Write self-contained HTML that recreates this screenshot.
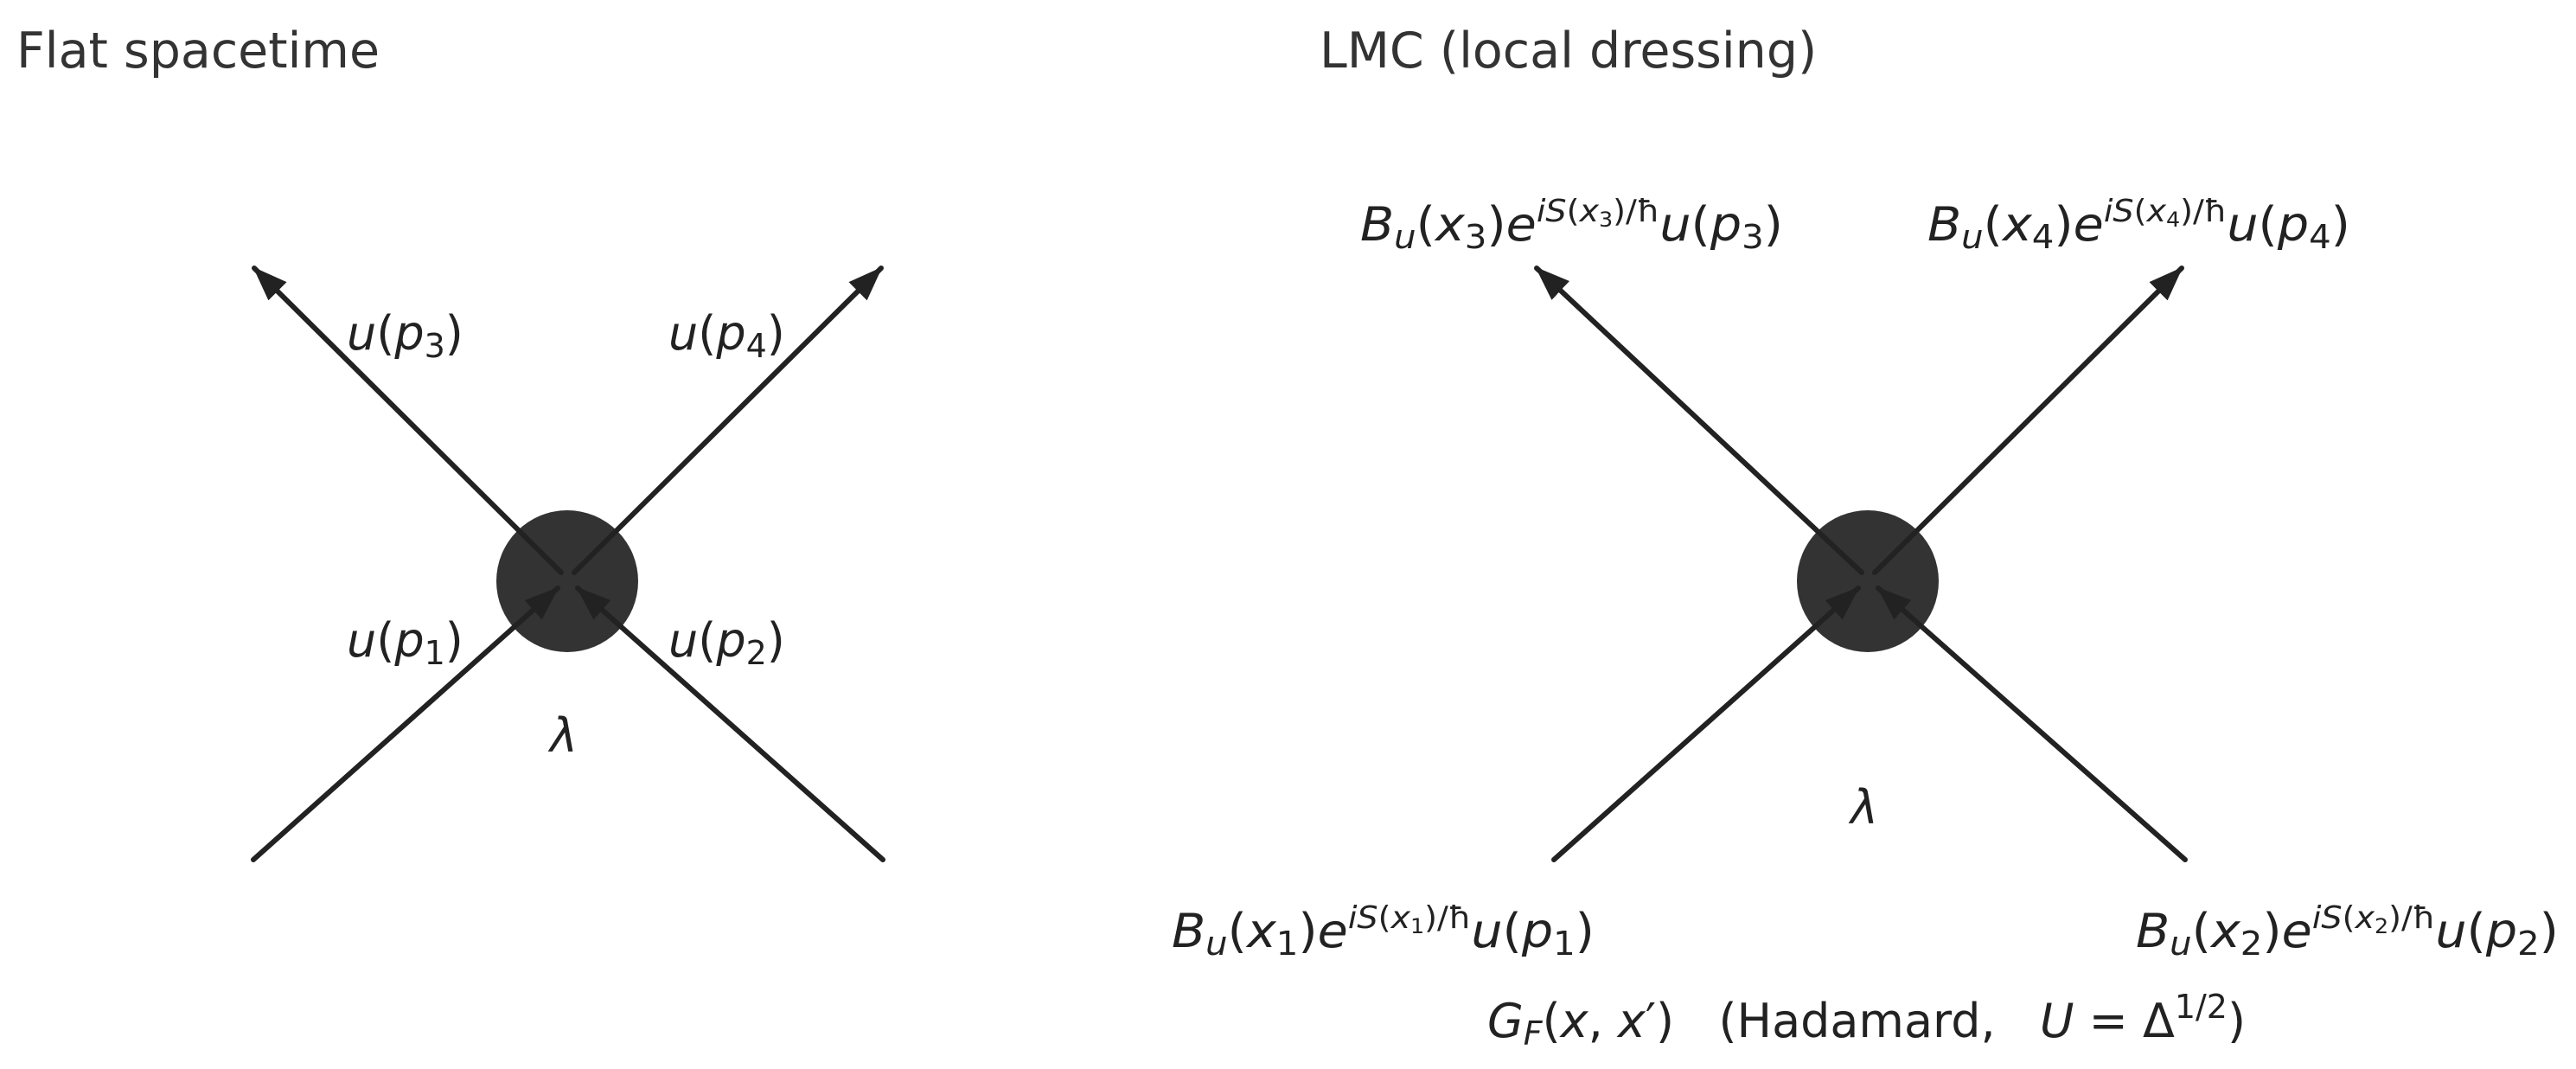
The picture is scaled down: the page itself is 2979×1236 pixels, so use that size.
<!DOCTYPE html>
<html><head><meta charset="utf-8"><style>
html,body{margin:0;padding:0;background:#fff;}
svg{display:block;}
text{font-family:"DejaVu Sans","Liberation Sans",sans-serif;}
.m{font-size:54px;fill:#222;}
.i{font-style:italic;}
.t{font-size:57px;fill:#333;}
</style></head><body>
<svg width="2979" height="1236" viewBox="0 0 2979 1236" xmlns="http://www.w3.org/2000/svg">
<defs>
<marker id="a" markerUnits="userSpaceOnUse" markerWidth="44" markerHeight="34" refX="38" refY="15" orient="auto">
<path d="M0,0 L40,15 L0,30 Z" fill="#222"/>
</marker>
</defs>
<text class="t" x="19" y="78">Flat spacetime</text>
<text class="t" x="1526" y="78">LMC (local dressing)</text>

<circle cx="656" cy="672" r="82" fill="#333"/>
<g stroke="#222" stroke-width="6" stroke-linecap="round" fill="none">
<line x1="649" y1="662" x2="294" y2="310" marker-end="url(#a)"/>
<line x1="664" y1="662" x2="1019" y2="310" marker-end="url(#a)"/>
<line x1="293" y1="994" x2="645" y2="680" marker-end="url(#a)"/>
<line x1="1021" y1="994" x2="668" y2="680" marker-end="url(#a)"/>
</g>
<text class="m" x="401" y="404"><tspan class="i">u</tspan>(<tspan class="i">p</tspan><tspan font-size="38" dy="9">3</tspan><tspan dy="-9">)</tspan></text>
<text class="m" x="773" y="404"><tspan class="i">u</tspan>(<tspan class="i">p</tspan><tspan font-size="38" dy="9">4</tspan><tspan dy="-9">)</tspan></text>
<text class="m" x="401" y="759"><tspan class="i">u</tspan>(<tspan class="i">p</tspan><tspan font-size="38" dy="9">1</tspan><tspan dy="-9">)</tspan></text>
<text class="m" x="773" y="759"><tspan class="i">u</tspan>(<tspan class="i">p</tspan><tspan font-size="38" dy="9">2</tspan><tspan dy="-9">)</tspan></text>
<text class="m i" x="636" y="869">λ</text>

<circle cx="2160" cy="672" r="82" fill="#333"/>
<g stroke="#222" stroke-width="6" stroke-linecap="round" fill="none">
<line x1="2153" y1="662" x2="1777" y2="310" marker-end="url(#a)"/>
<line x1="2168" y1="662" x2="2523" y2="310" marker-end="url(#a)"/>
<line x1="1797" y1="994" x2="2149" y2="680" marker-end="url(#a)"/>
<line x1="2527" y1="994" x2="2172" y2="680" marker-end="url(#a)"/>
</g>
<text class="m" x="1573" y="278" textLength="489" lengthAdjust="spacingAndGlyphs"><tspan class="i">B</tspan><tspan class="i" font-size="38" dy="9">u</tspan><tspan dy="-9">(</tspan><tspan class="i">x</tspan><tspan font-size="38" dy="9">3</tspan><tspan dy="-9">)</tspan><tspan class="i">e</tspan><tspan font-size="36" dy="-22"><tspan class="i">iS</tspan>(<tspan class="i">x</tspan><tspan font-size="24" dy="6">3</tspan><tspan dy="-6">)/ħ</tspan></tspan><tspan class="i" dy="22">u</tspan>(<tspan class="i">p</tspan><tspan font-size="38" dy="9">3</tspan><tspan dy="-9">)</tspan></text>
<text class="m" x="2229" y="278" textLength="489" lengthAdjust="spacingAndGlyphs"><tspan class="i">B</tspan><tspan class="i" font-size="38" dy="9">u</tspan><tspan dy="-9">(</tspan><tspan class="i">x</tspan><tspan font-size="38" dy="9">4</tspan><tspan dy="-9">)</tspan><tspan class="i">e</tspan><tspan font-size="36" dy="-22"><tspan class="i">iS</tspan>(<tspan class="i">x</tspan><tspan font-size="24" dy="6">4</tspan><tspan dy="-6">)/ħ</tspan></tspan><tspan class="i" dy="22">u</tspan>(<tspan class="i">p</tspan><tspan font-size="38" dy="9">4</tspan><tspan dy="-9">)</tspan></text>
<text class="m" x="1355" y="1095" textLength="489" lengthAdjust="spacingAndGlyphs"><tspan class="i">B</tspan><tspan class="i" font-size="38" dy="9">u</tspan><tspan dy="-9">(</tspan><tspan class="i">x</tspan><tspan font-size="38" dy="9">1</tspan><tspan dy="-9">)</tspan><tspan class="i">e</tspan><tspan font-size="36" dy="-22"><tspan class="i">iS</tspan>(<tspan class="i">x</tspan><tspan font-size="24" dy="6">1</tspan><tspan dy="-6">)/ħ</tspan></tspan><tspan class="i" dy="22">u</tspan>(<tspan class="i">p</tspan><tspan font-size="38" dy="9">1</tspan><tspan dy="-9">)</tspan></text>
<text class="m" x="2470" y="1095" textLength="489" lengthAdjust="spacingAndGlyphs"><tspan class="i">B</tspan><tspan class="i" font-size="38" dy="9">u</tspan><tspan dy="-9">(</tspan><tspan class="i">x</tspan><tspan font-size="38" dy="9">2</tspan><tspan dy="-9">)</tspan><tspan class="i">e</tspan><tspan font-size="36" dy="-22"><tspan class="i">iS</tspan>(<tspan class="i">x</tspan><tspan font-size="24" dy="6">2</tspan><tspan dy="-6">)/ħ</tspan></tspan><tspan class="i" dy="22">u</tspan>(<tspan class="i">p</tspan><tspan font-size="38" dy="9">2</tspan><tspan dy="-9">)</tspan></text>
<text class="m i" x="2140" y="952">λ</text>
<text class="m" x="1720" y="1199" textLength="877" lengthAdjust="spacingAndGlyphs" xml:space="preserve"><tspan class="i">G</tspan><tspan class="i" font-size="38" dy="9">F</tspan><tspan dy="-9">(</tspan><tspan class="i">x</tspan>, <tspan class="i">x</tspan>′)   (Hadamard,   <tspan class="i">U</tspan> = Δ<tspan font-size="38" dy="-22">1/2</tspan><tspan dy="22">)</tspan></text>
</svg>
</body></html>
